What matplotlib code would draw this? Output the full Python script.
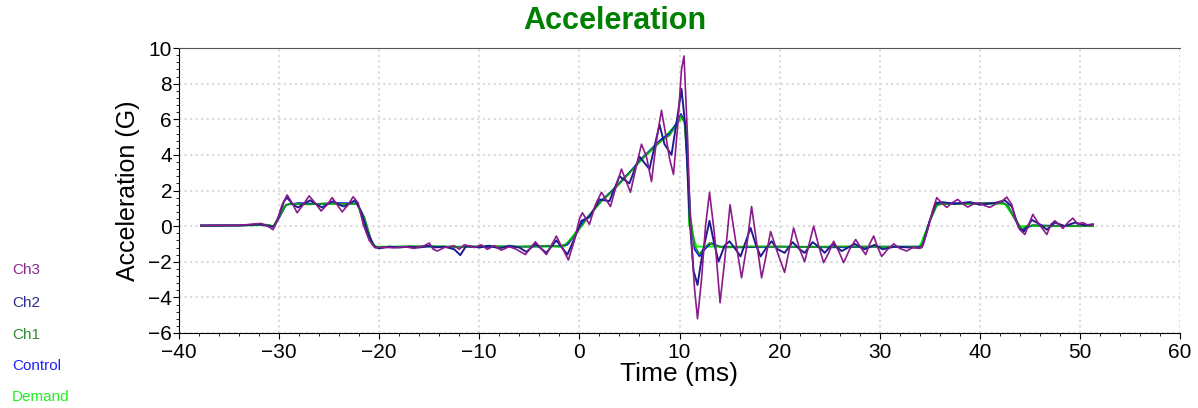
import numpy as np
import matplotlib
matplotlib.use('Agg')
from matplotlib import pyplot as plt
from matplotlib.ticker import MultipleLocator

plt.rcParams['font.family'] = ['Liberation Sans', 'DejaVu Sans']

# ---- data (time in ms, acceleration in G) ----
t_demand = [-37.8, -31.8, -31.0, -30.5, -29.5, -29.0, -22.2, -21.0, -20.4, -1.5,
            -0.3, 2.0, 4.0, 6.0, 8.0, 10.0, 10.4, 10.75, 10.95, 11.7, 34.0,
            35.7, 42.5, 44.0, 51.3]
demand = [0.03, 0.05, 0.03, 0.0, 1.1, 1.25, 1.25, -0.6, -1.15, -1.15,
          -0.3, 1.3, 2.4, 3.6, 4.7, 5.9, 6.1, 5.5, 0.1, -1.15, -1.15,
          1.25, 1.25, 0.0, 0.0]

t_control = [-37.8, -32.5, -31.8, -31.0, -30.5, -30.0, -29.3, -28.0, -26.0, -24.0,
             -22.2, -21.5, -20.7, -20.2, -15.0, -10.0, -5.0, -2.0, -1.2, -0.5,
             0.3, 1.2, 2.2, 3.2, 4.2, 5.2, 6.2, 7.2, 8.2, 9.0, 9.6, 10.15,
             10.5, 10.8, 11.1, 11.5, 12.0, 12.6, 13.2, 14.0, 16.0, 20.0, 25.0,
             30.0, 34.0, 34.4, 35.0, 35.7, 36.3, 39.0, 42.3, 42.8, 43.5, 44.2,
             44.7, 45.3, 48.0, 51.3]
control = [0.03, 0.05, 0.1, 0.04, 0.0, 0.45, 1.2, 1.3, 1.25, 1.3,
           1.28, 0.5, -1.0, -1.2, -1.15, -1.18, -1.15, -1.12, -1.05, -0.55,
           0.2, 0.75, 1.45, 1.95, 2.55, 3.15, 3.8, 4.35, 4.9, 5.2, 5.7, 6.3,
           5.9, 3.6, 0.4, -1.3, -1.7, -1.25, -0.95, -1.15, -1.2, -1.15, -1.2,
           -1.15, -1.15, -0.95, 0.3, 1.2, 1.3, 1.28, 1.32, 1.15, 0.4, -0.2,
           -0.1, 0.05, 0.02, 0.03]

t_ch1 = [-37.8, -32.5, -31.8, -31.0, -30.6, -30.0, -29.3, -28.5, -27.0, -25.5,
         -24.0, -22.2, -21.5, -20.7, -20.2, -18.0, -15.0, -12.0, -9.0, -6.0,
         -3.0, -2.0, -1.3, -0.6, 0.0, 1.0, 2.2, 3.2, 4.2, 5.2, 6.2, 7.2, 8.2,
         9.0, 9.6, 10.15, 10.5, 10.8, 11.1, 11.5, 12.0, 12.5, 13.0, 13.6,
         14.5, 17.0, 20.0, 23.0, 26.0, 29.0, 32.0, 34.0, 34.3, 35.0, 35.7,
         36.2, 38.0, 40.0, 42.3, 42.8, 43.5, 44.2, 44.6, 45.2, 47.0, 49.0,
         51.3]
ch1 = [0.03, 0.05, 0.12, 0.05, 0.0, 0.5, 1.2, 1.25, 1.22, 1.27,
       1.25, 1.25, 0.5, -1.0, -1.2, -1.15, -1.12, -1.18, -1.12, -1.15,
       -1.1, -1.15, -1.0, -0.6, -0.15, 0.6, 1.4, 1.9, 2.5, 3.1, 3.75, 4.3, 4.8,
       5.1, 5.6, 6.2, 5.8, 3.5, 0.5, -1.1, -1.58, -1.2, -0.95, -1.1,
       -1.2, -1.15, -1.15, -1.18, -1.15, -1.15, -1.18, -1.15, -1.0, 0.3, 1.15,
       1.25, 1.25, 1.28, 1.3, 1.15, 0.4, -0.15, -0.05, 0.05, 0.0, 0.02,
       0.0]

t_ch2 = [-37.8, -34.0, -32.0, -31.0, -30.5, -30.0, -29.5, -29.2, -28.6, -28.1,
         -27.4, -26.9, -26.2, -25.7, -25.0, -24.6, -24.0, -23.5, -22.9, -22.4,
         -21.8, -21.2, -20.5, -20.0, -19.0, -18.0, -17.0, -16.0, -15.0, -14.5,
         -13.5, -12.5, -11.9, -11.3, -10.0, -9.0, -8.0, -7.0, -6.0, -5.3,
         -4.4, -3.3, -2.3, -1.2, -0.5, 0.2, 1.0, 2.0, 3.0, 4.0, 5.0, 6.0, 7.0,
         8.0, 8.5, 9.2, 9.7, 10.2, 10.6, 11.0, 11.4, 11.8, 12.3, 13.0, 13.4,
         13.9, 14.5, 15.0, 15.6, 16.1, 16.6, 17.1, 17.6, 18.1, 18.7, 19.2,
         19.8, 20.5, 21.3, 22.0, 22.5, 23.3, 24.0, 24.5, 25.3, 26.2, 27.5,
         28.5, 29.5, 30.3, 31.5, 33.0, 34.2, 35.0, 35.6, 36.2, 37.5, 39.0,
         40.0, 41.5, 42.5, 43.2, 43.9, 44.4, 45.2, 46.0, 46.7, 47.5, 48.5,
         49.5, 50.5, 51.3]
ch2 = [0.03, 0.03, 0.1, 0.0, -0.05, 0.6, 1.4, 1.6, 1.2, 1.05,
       1.3, 1.45, 1.2, 1.05, 1.3, 1.4, 1.2, 1.1, 1.3, 1.45,
       0.8, -0.3, -1.15, -1.25, -1.15, -1.2, -1.15, -1.2, -1.1, -1.2,
       -1.15, -1.3, -1.63, -1.1, -1.2, -1.1, -1.25, -1.1, -1.2, -1.45,
       -1.0, -1.5, -0.8, -1.6, -0.7, 0.3, 0.5, 1.5, 1.4, 2.8, 2.4, 3.9, 3.2,
       5.7, 4.6, 4.0, 5.8, 7.7, 5.5, 0.5, -2.5, -3.3, -1.5, 0.3, -0.8,
       -2.0, -1.1, -0.85, -1.3, -1.7, -0.9, -0.1, -1.0, -1.7, -1.2, -0.85,
       -1.3, -1.5, -0.9, -1.3, -1.5, -0.9, -1.2, -1.5, -1.0, -1.4, -1.0,
       -1.3, -1.05, -1.3, -1.15, -1.2, -1.2, 0.3, 1.3, 1.35, 1.25, 1.35,
       1.2, 1.3, 1.45, 1.1, -0.1, -0.3, 0.35, 0.1, -0.2, 0.2, 0.0,
       0.2, 0.05, 0.1]

t_ch3 = [-37.8, -36.0, -34.0, -32.5, -31.8, -31.0, -30.6, -30.2, -29.7, -29.2,
         -28.7, -28.2, -27.6, -27.0, -26.4, -25.8, -25.2, -24.7, -24.2, -23.7,
         -23.1, -22.6, -22.1, -21.6, -21.0, -20.4, -19.5, -18.5, -17.5, -16.5,
         -15.5, -15.0, -14.6, -14.2, -13.5, -12.5, -12.0, -11.5, -10.5, -9.8,
         -9.2, -8.5, -7.8, -7.0, -6.3, -5.4, -4.4, -3.3, -2.3, -1.1, -0.5,
         0.0, 0.3, 1.0, 1.6, 2.2, 3.1, 3.7, 4.2, 5.1, 5.7, 6.2, 6.7, 7.2,
         7.7, 8.2, 8.6, 9.0, 9.4, 9.8, 10.2, 10.45, 10.8, 11.1, 11.5, 11.8,
         12.2, 12.6, 13.0, 13.5, 14.05, 14.5, 15.05, 15.6, 16.2, 16.7, 17.2,
         17.7, 18.2, 18.6, 19.1, 19.8, 20.5, 21.0, 21.4, 22.0, 22.5, 23.0,
         23.4, 23.9, 24.4, 24.9, 25.4, 25.9, 26.4, 27.0, 27.6, 28.1, 28.6,
         29.0, 29.4, 29.8, 30.2, 30.8, 31.4, 32.0, 32.7, 33.3, 34.0, 34.3,
         34.8, 35.3, 35.7, 36.2, 36.7, 37.2, 37.8, 38.3, 38.8, 39.4, 40.0,
         40.5, 41.0, 41.6, 42.2, 42.7, 43.2, 43.6, 44.0, 44.5, 44.9, 45.3,
         45.8, 46.2, 46.7, 47.1, 47.5, 48.0, 48.3, 48.8, 49.3, 49.8, 50.3,
         50.8, 51.3]
ch3 = [0.03, 0.05, 0.04, 0.12, 0.15, -0.05, -0.2, 0.3, 1.2, 1.75,
       1.3, 0.75, 1.2, 1.7, 1.3, 0.85, 1.2, 1.6, 1.2, 0.8,
       1.2, 1.65, 1.3, 0.1, -0.8, -1.22, -1.18, -1.22, -1.15, -1.25,
       -1.1, -0.95, -1.3, -1.4, -1.2, -1.1, -1.3, -1.05, -1.2, -1.05,
       -1.3, -1.1, -1.35, -1.15, -1.3, -1.6, -0.88, -1.6, -0.56, -1.9, -0.8,
       0.4, 0.75, 0.1, 1.2, 1.9, 1.1, 2.3, 3.2, 1.9, 3.4, 4.6, 3.9, 2.5,
       4.8, 6.5, 5.2, 3.8, 2.9, 5.5, 8.8, 9.55, 5.0, 0.0, -3.5, -5.2,
       -3.0, 0.0, 1.9, -0.5, -4.3, -2.0, 1.2, -0.8, -2.9, -1.2, 1.1,
       -0.9, -2.9, -1.8, -0.3, -1.5, -2.6, -1.2, -0.1, -1.3, -2.0, -0.9,
       0.0, -1.1, -2.05, -1.5, -0.85, -1.4, -2.05, -1.3, -0.75, -1.2, -1.6,
       -1.0, -0.55, -1.2, -1.7, -1.3, -1.0, -1.25, -1.4, -1.2, -1.25, -1.1,
       -0.2, 0.9, 1.6, 1.3, 1.05, 1.3, 1.5, 1.25, 1.07, 1.25, 1.3,
       1.15, 1.05, 1.25, 1.4, 1.63, 1.2, 0.3, -0.2, -0.47, 0.1, 0.66,
       0.2, -0.1, -0.47, 0.1, 0.3, 0.05, -0.13, 0.2, 0.45, 0.1, 0.2,
       0.05, 0.1]

names = ['Ch3', 'Ch2', 'Ch1', 'Control', 'Demand']
colors = ['#8b1a8b', '#1c1c8c', '#1a9a1a', '#0000ff', '#00ff00']
label_colors = ['#8b2a8b', '#2b2b8f', '#2e8b2e', '#2020ff', '#22ee22']

fig = plt.figure(figsize=(11.98, 4.08), dpi=100)
ax = fig.add_axes([179/1198, 75/408, 1001/1198, 285/408])

ax.plot(t_demand, demand, color=colors[4], lw=1.3, zorder=2)
ax.plot(t_control, control, color=colors[3], lw=1.1, zorder=3)
ax.plot(t_ch1, ch1, color=colors[2], lw=1.3, zorder=4)
ax.plot(t_ch2, ch2, color=colors[1], lw=1.4, zorder=5)
ax.plot(t_ch3, ch3, color=colors[0], lw=1.2, zorder=6)

ax.set_xlim(-40, 60)
ax.set_ylim(-6, 10)
ax.xaxis.set_major_locator(MultipleLocator(10))
ax.xaxis.set_minor_locator(MultipleLocator(2))
ax.yaxis.set_major_locator(MultipleLocator(2))
ax.yaxis.set_minor_locator(MultipleLocator(0.4))
ax.grid(True, which='major', color='#dadada', ls=':', lw=1.5)
ax.tick_params(which='major', length=4, labelsize=15)
ax.tick_params(axis='x', which='major', pad=3)
ax.tick_params(axis='y', which='major', pad=1)
ax.tick_params(which='minor', length=2)
ax.spines['right'].set_visible(False)
ax.spines['top'].set_color('#555555')

ax.set_xlabel('Time (ms)', fontsize=19, labelpad=0)
ax.set_ylabel('Acceleration (G)', fontsize=18, labelpad=6)

fig.text(615/1198, 1 - 21/408, 'Acceleration', color='#008000', fontsize=22,
         fontweight='bold', ha='center', va='center')

legend_y = [270, 303, 335, 366, 397]
for name, c, y in zip(names, label_colors, legend_y):
    fig.text(12/1198, 1 - y/408, name, color=c, fontsize=11, ha='left', va='center')

fig.savefig('out.png', dpi=100)
